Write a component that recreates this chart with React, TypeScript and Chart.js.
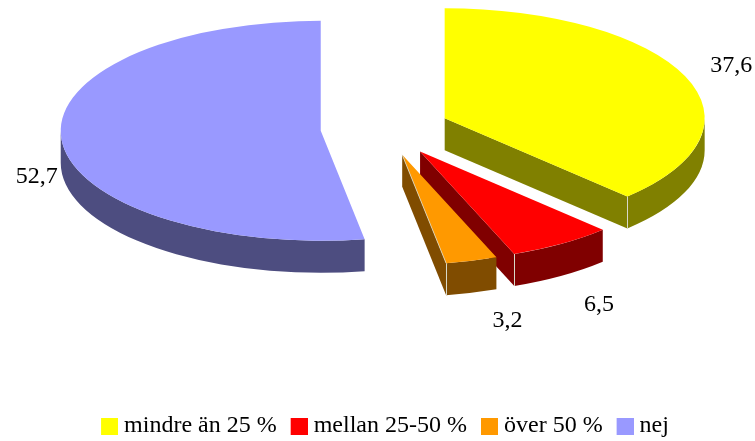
import React, { useEffect, useRef } from "react";
import { Chart, PieController, registerables } from "chart.js";

const categories = ["mindre än 25 %", "mellan 25-50 %", "över 50 %", "nej"];
const values = [37.6, 6.5, 3.2, 52.7];
const topColors = ["#FFFF00", "#FF0000", "#FF9900", "#9999FF"];
const sideColors = ["#808000", "#800000", "#804C00", "#4D4D80"];
const litCutEdges = [false, false, true, false];
const labelOffsets = [[46, -10.5], [37.5, 60.5], [36, 59.5], [-25, 36.5]];

const FONT = "'Liberation Serif', 'Times New Roman', serif";
const FONT_SIZE = 24;
const EXPLODE = 64.5;
const RADIUS = 260;
const SQUASH = 110 / 260;
const DEPTH = 32;
const PIE_CY = 128.5;
const EDGE = "#D8D8C8";

function legendSwatch(color: string) {
  const c = document.createElement("canvas");
  c.width = 23;
  c.height = 17;
  const g = c.getContext("2d")!;
  g.fillStyle = color;
  g.fillRect(6, 0, 17, 17);
  return c;
}

// Pie seen at an angle: slices pushed out along their middle angle, with a raised side.
class ExplodedPie3D extends PieController {
  static id = "explodedPie3d";
  static defaults = PieController.defaults;
  static overrides = PieController.overrides;

  draw() {
    const ctx = (this as any).chart.ctx;
    const area = (this as any).chart.chartArea;
    const arcs = (this as any)._cachedMeta.data;
    arcs.forEach((el: any, i: number) => {
      const { x, y, startAngle: s, endAngle: e, outerRadius: r } = el.getProps(
        ["x", "y", "startAngle", "endAngle", "outerRadius"],
        true
      );
      const mid = (s + e) / 2;
      const dx = Math.cos(mid) * EXPLODE;
      const dy = Math.sin(mid) * EXPLODE;
      const cx = x + dx;
      const cy = PIE_CY + dy * SQUASH;
      const pt = (a: number) => [cx + r * Math.cos(a), cy + r * SQUASH * Math.sin(a)];

      ctx.save();
      ctx.fillStyle = sideColors[i];
      const face = (a: number) => {
        const p = pt(a);
        ctx.beginPath();
        ctx.moveTo(cx, cy);
        ctx.lineTo(p[0], p[1]);
        ctx.lineTo(p[0], p[1] + DEPTH);
        ctx.lineTo(cx, cy + DEPTH);
        ctx.closePath();
        ctx.fill();
      };
      if (Math.cos(e) > 1e-6) face(e);
      if (Math.cos(s) < -1e-6) face(s);
      const a0 = Math.max(s, 0);
      const a1 = Math.min(e, Math.PI);
      if (a1 > a0) {
        ctx.beginPath();
        ctx.ellipse(cx, cy, r, r * SQUASH, 0, a0, a1, false);
        ctx.ellipse(cx, cy + DEPTH, r, r * SQUASH, 0, a1, a0, true);
        ctx.closePath();
        ctx.fill();
      }
      if (Math.cos(e) > 1e-6 && e > 0) {
        const p = pt(e);
        ctx.strokeStyle = EDGE;
        ctx.lineWidth = 1;
        ctx.beginPath();
        ctx.moveTo(Math.round(p[0]) + 0.5, p[1]);
        ctx.lineTo(Math.round(p[0]) + 0.5, p[1] + DEPTH);
        ctx.stroke();
      }
      ctx.restore();

      ctx.save();
      ctx.translate(dx, PIE_CY + dy * SQUASH);
      ctx.scale(1, SQUASH);
      ctx.translate(0, -y);
      el.draw(ctx, area);
      ctx.restore();

      if (litCutEdges[i]) {
        const p = pt(e);
        ctx.save();
        ctx.strokeStyle = EDGE;
        ctx.lineWidth = 0.8;
        ctx.beginPath();
        ctx.moveTo(cx, cy);
        ctx.lineTo(p[0], p[1]);
        ctx.stroke();
        ctx.restore();
      }
    });
  }
}

Chart.register(...registerables, ExplodedPie3D);

const valueLabels = {
  id: "valueLabels",
  afterDatasetsDraw(chart: any) {
    const ctx = chart.ctx;
    const arcs = chart.getDatasetMeta(0).data;
    ctx.save();
    ctx.fillStyle = "#000";
    ctx.font = `${FONT_SIZE}px ${FONT}`;
    ctx.textAlign = "center";
    ctx.textBaseline = "middle";
    arcs.forEach((el: any, i: number) => {
      const { x, startAngle: s, endAngle: e, outerRadius: r } = el.getProps(
        ["x", "startAngle", "endAngle", "outerRadius"],
        true
      );
      const mid = (s + e) / 2;
      const px = x + Math.cos(mid) * (EXPLODE + r) + labelOffsets[i][0];
      const py = PIE_CY + Math.sin(mid) * (EXPLODE + r) * SQUASH + labelOffsets[i][1];
      ctx.fillText(values[i].toFixed(1).replace(".", ","), px, py);
    });
    ctx.restore();
  },
};

export default function App() {
  const ref = useRef<HTMLCanvasElement>(null);
  useEffect(() => {
    document.body.style.margin = "0";
    const chart = new Chart(ref.current!, {
      type: "explodedPie3d",
      data: {
        labels: categories,
        datasets: [
          {
            data: values,
            backgroundColor: topColors,
            borderWidth: 0,
            radius: RADIUS,
            clip: false,
          } as any,
        ],
      },
      options: {
        responsive: false,
        animation: false,
        layout: { padding: { left: 15, bottom: -7 } },
        plugins: {
          tooltip: { enabled: false },
          legend: {
            position: "bottom",
            labels: {
              usePointStyle: true,
              pointStyleWidth: 11,
              boxHeight: 17,
              padding: 14,
              color: "#000",
              font: { family: FONT, size: FONT_SIZE },
              generateLabels: () =>
                categories.map((text, i) => ({
                  text,
                  index: i,
                  hidden: false,
                  fontColor: "#000",
                  fillStyle: topColors[i],
                  strokeStyle: topColors[i],
                  lineWidth: 0,
                  pointStyle: legendSwatch(topColors[i]),
                })),
            },
          },
        },
      } as any,
      plugins: [valueLabels],
    } as any);
    return () => chart.destroy();
  }, []);
  return <canvas ref={ref} width={755} height={441} style={{ display: "block" }} />;
}
